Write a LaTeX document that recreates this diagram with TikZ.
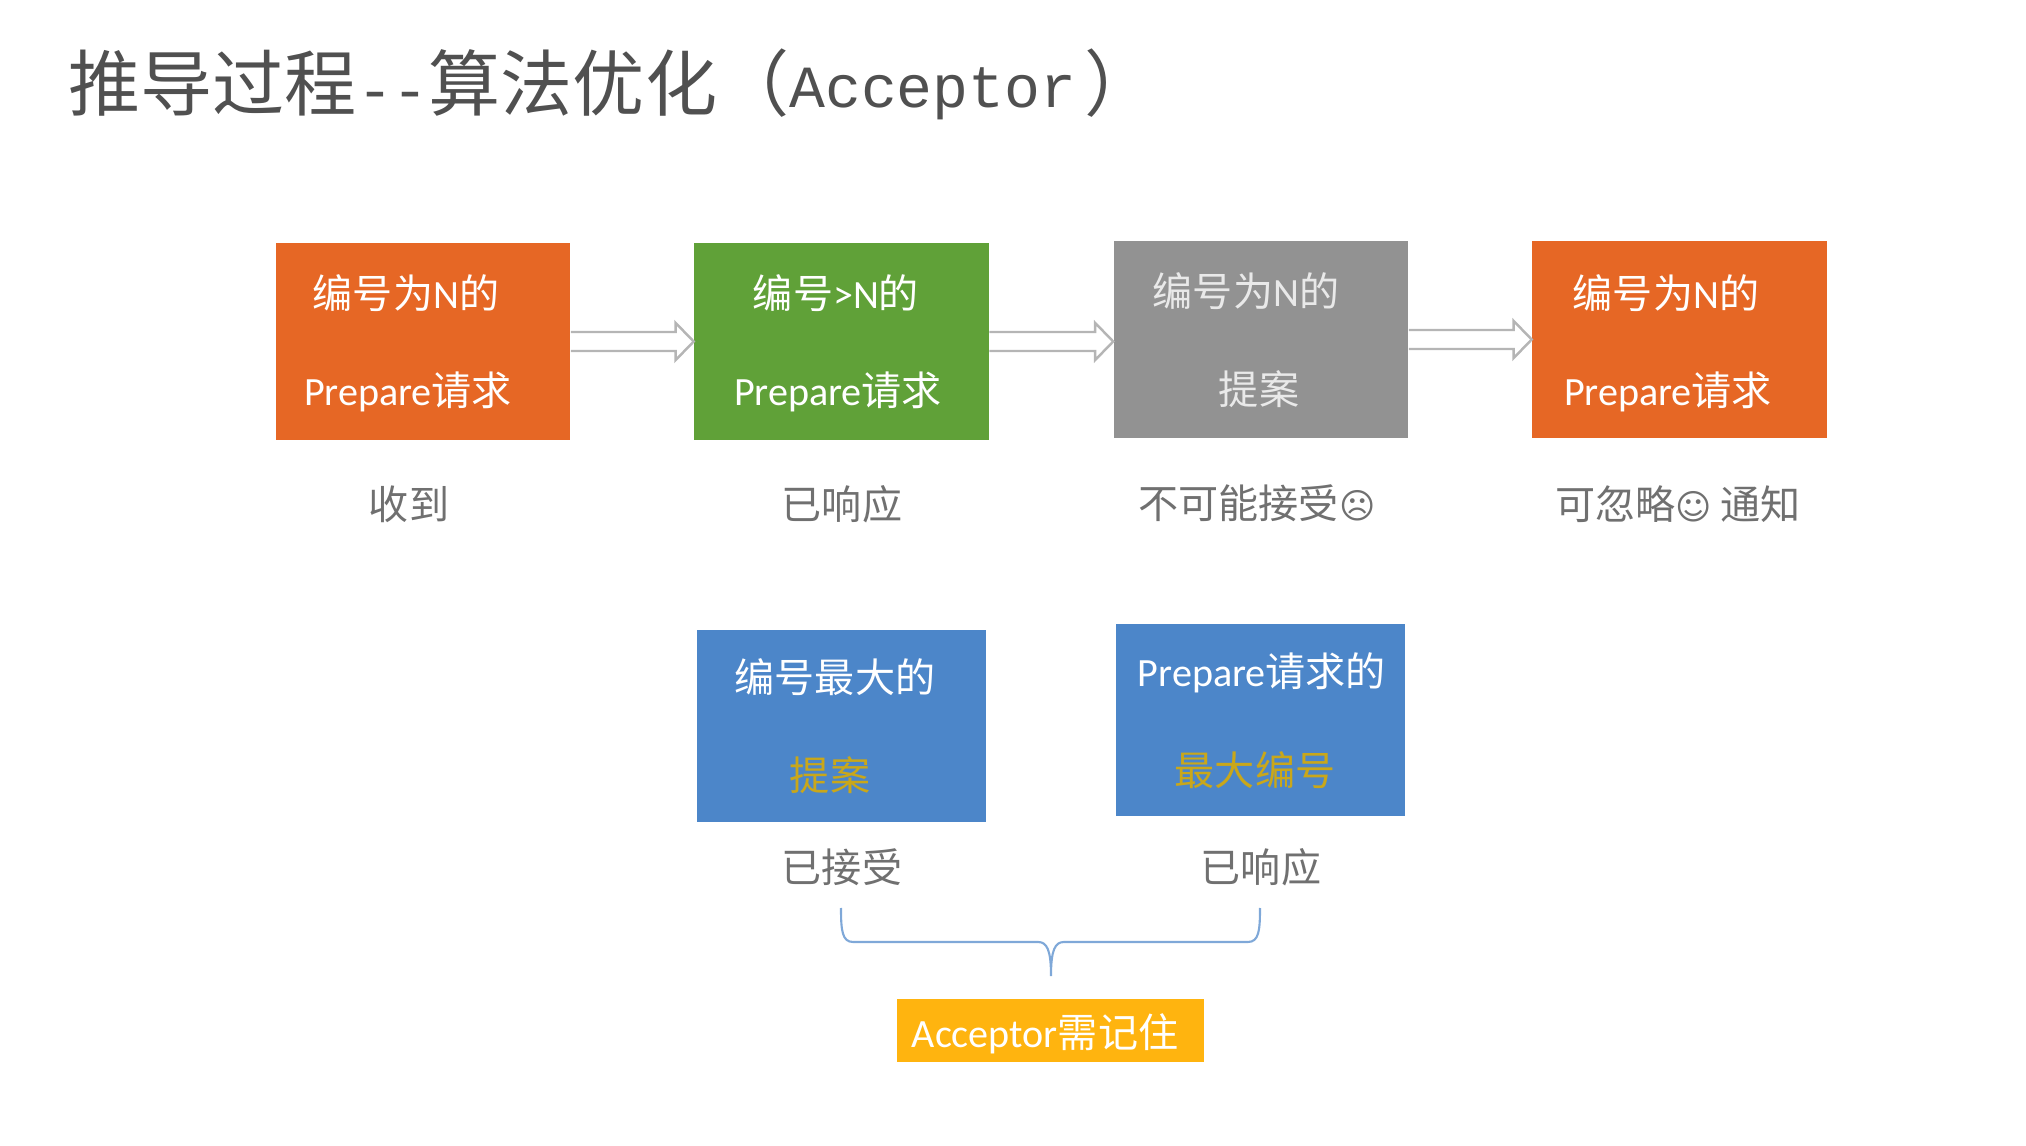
\documentclass[tikz,border=0pt]{standalone}
\usepackage{fontspec}
\usetikzlibrary{calc}
\setmainfont{Carlito}
\setmonofont{Liberation Mono}
\newfontfamily\cjk{Noto Sans CJK SC}
\newfontfamily\symb[Scale=0.87]{DejaVu Sans}
\definecolor{tileorange}{HTML}{E66725}
\definecolor{tilegreen}{HTML}{60A138}
\definecolor{tilegray}{HTML}{929292}
\definecolor{tileblue}{HTML}{4C86C9}
\definecolor{tileyellow}{HTML}{FFB40F}
\definecolor{textgold}{HTML}{C9A71A}
\definecolor{textgray}{HTML}{707070}
\definecolor{titlegray}{HTML}{505050}
\definecolor{arrowgray}{HTML}{B5B5B5}
\definecolor{bracecolor}{HTML}{7FA8D8}
\tikzset{
  tile/.style={inner sep=0pt,minimum width=2.94cm,minimum height=1.97cm},
  smalltile/.style={inner sep=0pt,minimum width=2.89cm,minimum height=1.91cm},
  inbox/.style={inner sep=0pt,white,font=\fontsize{11.4}{14}\selectfont},
  caption/.style={inner sep=0pt,textgray,font=\fontsize{11.4}{14}\selectfont},
  hollow/.style={draw=arrowgray,fill=white,line width=0.7pt,line join=miter,
    to path={let \p1=(\tikztostart),\p2=(\tikztotarget) in
      (\x1,\y1+0.095cm) -- (\x2-0.18cm,\y1+0.095cm) -- (\x2-0.18cm,\y1+0.185cm)
      -- (\x2,\y1) -- (\x2-0.18cm,\y1-0.185cm) -- (\x2-0.18cm,\y1-0.095cm)
      -- (\x1,\y1-0.095cm)}}
}
\begin{document}
\begin{tikzpicture}[x=0.01cm,y=-0.01cm]
  \useasboundingbox (0,0) rectangle (2026,1146);
  \node[anchor=west,inner sep=0pt,titlegray,font=\fontsize{20.5}{24}\selectfont] (title) at (68,84)
    {{\cjk 推导过程}{\fontsize{17}{24}\selectfont\texttt{--}}{\cjk 算法优化（}\raisebox{0.03cm}{\fontsize{17}{24}\selectfont\texttt{Acceptor}}\kern0.08cm{\cjk ）}};

  \node[tile,fill=tileorange] (recv) at (423,341.5) {};
  \node[tile,fill=tilegreen] (resp) at (841.5,341.5) {};
  \node[tile,fill=tilegray] (prop) at (1261,339.5) {};
  \node[tile,fill=tileorange] (skip) at (1679.5,339.5) {};
  \draw[hollow] (recv.east) to (resp.west);
  \draw[hollow] (resp.east) to (prop.west);
  \draw[hollow] (prop.east) to (skip.west);

  \node[inbox] (recvtop) at (406,293) {{\cjk 编号为}N{\cjk 的}};
  \node[inbox] (recvbot) at (408,392) {Prepare{\cjk 请求}};
  \node[inbox] (resptop) at (836,293) {{\cjk 编号}>N{\cjk 的}};
  \node[inbox] (respbot) at (838,392) {Prepare{\cjk 请求}};
  \node[inbox,white!80!tilegray] (proptop) at (1246,291) {{\cjk 编号为}N{\cjk 的}};
  \node[inbox,white!80!tilegray] (propbot) at (1259,389) {{\cjk 提案}};
  \node[inbox] (skiptop) at (1666,293) {{\cjk 编号为}N{\cjk 的}};
  \node[inbox] (skipbot) at (1668,392) {Prepare{\cjk 请求}};

  \node[caption] (recvcap) at (409,504) {{\cjk 收到}};
  \node[caption] (respcap) at (842,504) {{\cjk 已响应}};
  \node[caption] (propcap) at (1257,503) {{\cjk 不可能接受}{\symb ☹}};
  \node[caption] (skipcap) at (1678,504) {{\cjk 可忽略}{\symb ☺} {\cjk 通知}};

  \node[smalltile,fill=tileblue] (maxprop) at (841.5,726) {};
  \node[smalltile,fill=tileblue] (maxreq) at (1260.5,720) {};
  \node[inbox] (maxproptop) at (835,677) {{\cjk 编号最大的}};
  \node[inbox,textgold] (maxpropbot) at (830,775) {{\cjk 提案}};
  \node[inbox] (maxreqtop) at (1262,673) {Prepare{\cjk 请求的}};
  \node[inbox,textgold] (maxreqbot) at (1255,770) {{\cjk 最大编号}};
  \node[caption] (maxpropcap) at (842,867) {{\cjk 已接受}};
  \node[caption] (maxreqcap) at (1261,867) {{\cjk 已响应}};

  \node[inner sep=0pt,minimum width=3.07cm,minimum height=0.63cm,fill=tileyellow] (must) at (1050.5,1030.5) {};
  \node[inbox] (musttext) at (1045,1034) {Acceptor{\cjk 需记住}};

  \coordinate (braceleft) at (841,908);
  \coordinate (braceright) at (1260,908);
  \coordinate (bracetip) at (1051,976);
  \draw[bracecolor,line width=0.6pt] (braceleft) .. controls (841,930) and (842,942) .. (853,942)
    -- (1038,942) .. controls (1047,942) and (1051,950) .. (bracetip)
    .. controls (1051,950) and (1055,942) .. (1064,942) -- (1248,942)
    .. controls (1259,942) and (1260,930) .. (braceright);
\end{tikzpicture}
\end{document}
